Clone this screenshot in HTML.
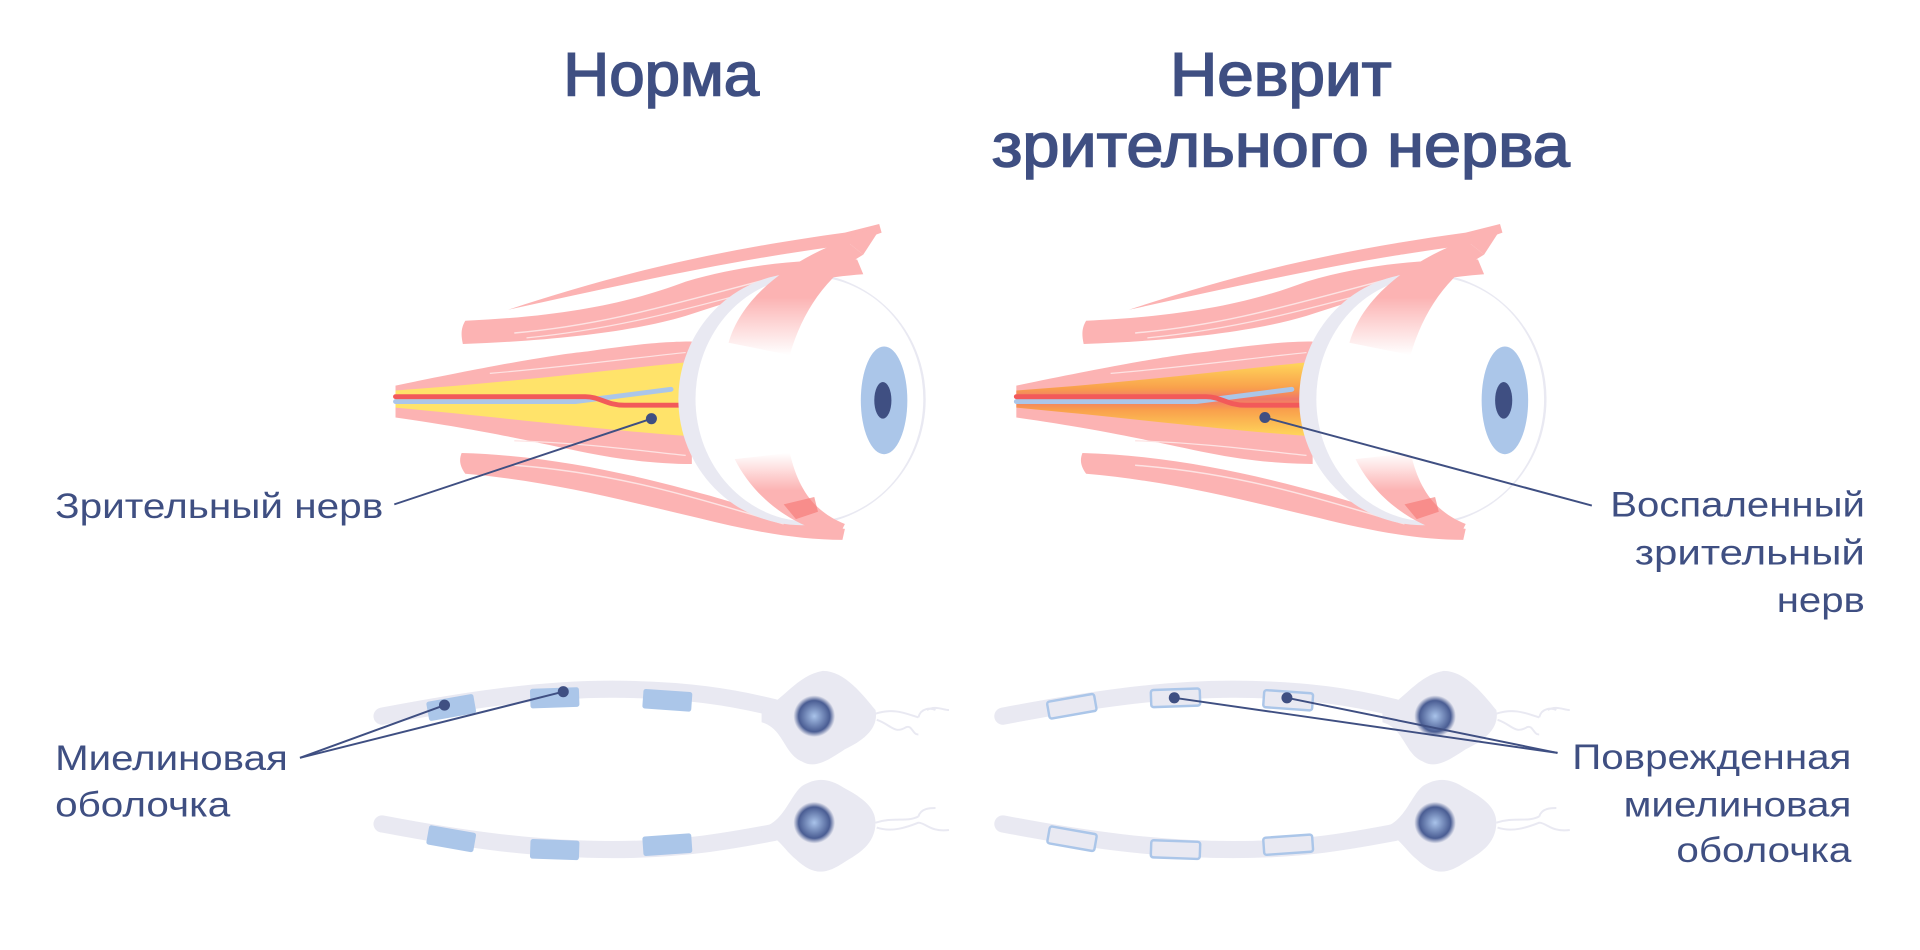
<!DOCTYPE html>
<html><head><meta charset="utf-8"><style>
html,body{margin:0;padding:0;background:#fff;width:1920px;height:950px;overflow:hidden}
svg{display:block}
text{font-family:"Liberation Sans","DejaVu Sans",sans-serif;fill:#3f4f82}
.t{stroke:#3f4f82;stroke-width:1.3}
</style></head><body>
<svg width="1920" height="950" viewBox="0 0 1568 776" xmlns="http://www.w3.org/2000/svg" preserveAspectRatio="none">
<defs>
<radialGradient id="nuc" cx="0.5" cy="0.5" r="0.5">
<stop offset="0" stop-color="#a9c3ea"/><stop offset="0.75" stop-color="#4a5d93"/><stop offset="1" stop-color="#e9e9f2"/>
</radialGradient>
<linearGradient id="inf" x1="0" y1="0" x2="0" y2="1">
<stop offset="0" stop-color="#ffd65a"/><stop offset="0.35" stop-color="#f9a04c"/><stop offset="0.5" stop-color="#f0776a"/><stop offset="0.65" stop-color="#f9a04c"/><stop offset="1" stop-color="#ffd65a"/>
</linearGradient>
<linearGradient id="fadeT" x1="0" y1="0" x2="0" y2="1">
<stop offset="0" stop-color="#fcb3b3" stop-opacity="0"/><stop offset="0.45" stop-color="#fcb3b3"/><stop offset="1" stop-color="#fcb3b3"/>
</linearGradient>
<linearGradient id="fadeB" x1="0" y1="0" x2="0" y2="1">
<stop offset="0" stop-color="#fcb3b3"/><stop offset="0.5" stop-color="#fcb3b3"/><stop offset="1" stop-color="#fcb3b3" stop-opacity="0"/>
</linearGradient>

<g id="eyebase">
<path d="M415 253 C500 225 580 205 690 190 L718 183 L720 190 L692 200 C600 212 520 230 415 253Z" fill="#fcb3b3"/>
<path d="M380 262 C470 258 520 245 560 230 C610 215 660 212 700 212 L705 224 C650 228 610 242 560 258 C520 270 460 278 378 281 C376 272 377 267 380 262Z" fill="#fcb3b3"/>
<path d="M420 272 C500 265 560 245 650 222" stroke="#fde3e3" stroke-width="1.2" fill="none"/>
<path d="M430 276 C510 268 570 250 660 226" stroke="#fde3e3" stroke-width="1" fill="none"/>
<path d="M377 370 C450 372 520 388 580 405 C630 420 660 428 690 432 L688 441 C650 441 610 433 570 423 C510 409 450 393 380 387 C375 380 375 375 377 370Z" fill="#fcb3b3"/>
<path d="M420 380 C500 386 560 404 640 428" stroke="#fde3e3" stroke-width="1.2" fill="none"/>
<path d="M323 315 C400 299 450 290 480 287 C520 281 545 279 565 279 L565 379 C540 379 510 376 480 370 C440 362 400 352 323 341Z" fill="#fcb3b3"/>
<path d="M400 305 C460 300 520 292 560 288" stroke="#fde3e3" stroke-width="1" fill="none"/>
<path d="M420 360 C480 362 520 368 560 372" stroke="#fde3e3" stroke-width="1" fill="none"/>
</g>
<g id="eyeball">
<ellipse cx="655" cy="326" rx="101" ry="103" fill="#e9e9f2"/>
<ellipse cx="661" cy="326" rx="93" ry="100" fill="#fff"/>
<ellipse cx="722" cy="327" rx="19" ry="44" fill="#abc6e9"/>
<ellipse cx="721" cy="327" rx="7" ry="15" fill="#3f4f82"/>
<path d="M595 280 C605 245 640 215 690 196 L705 208 C675 225 655 255 645 290 Z" fill="url(#fadeB)"/>
<path d="M690 196 C700 190 712 186 718 188 L705 208Z" fill="#fcb3b3"/>
<path d="M600 375 C615 405 645 430 685 438 L690 428 C665 418 652 400 645 370Z" fill="url(#fadeT)"/>
<path d="M640 412 L665 406 L668 418 L650 424Z" fill="#f5736f" opacity="0.6"/>
</g>
<g id="neuronTop">
<path d="M312 585 C380 572 440 563 500 563 C560 563 600 570 632 578" stroke="#e9e9f2" stroke-width="14" stroke-linecap="round" fill="none"/>
<path d="M622 580 C640 572 650 552 672 548 C690 548 705 568 715 580 C718 595 705 605 690 612 C675 622 665 628 655 622 C640 616 640 595 622 590Z" fill="#e9e9f2"/>
<circle cx="665" cy="585" r="17" fill="url(#nuc)"/>
<path d="M715 583 C730 578 740 583 750 586 M757 580 C764 576 770 580 775 580 M750 586 C752 578 760 578 764 580 M716 588 C728 592 730 600 740 594 C745 592 745 600 750 600" stroke="#e9e9f2" stroke-width="1.6" fill="none"/>
</g>
<g id="neuronBot">
<path d="M312 673 C380 686 440 694 500 694 C560 694 600 686 632 680" stroke="#e9e9f2" stroke-width="14" stroke-linecap="round" fill="none"/>
<path d="M622 676 C640 672 645 650 655 642 C665 636 675 634 690 644 C705 652 715 660 715 672 C715 690 700 698 690 704 C675 714 665 716 650 702 C640 694 635 682 622 680Z" fill="#e9e9f2"/>
<circle cx="665" cy="672" r="17" fill="url(#nuc)"/>
<path d="M715 672 C730 667 740 672 750 667 M716 676 C728 680 740 676 750 672 C756 672 760 680 775 678 M750 667 C752 660 760 660 764 660" stroke="#e9e9f2" stroke-width="1.6" fill="none"/>
</g>
</defs>

<text class="t" x="540" y="78" font-size="50" text-anchor="middle" textLength="160" lengthAdjust="spacingAndGlyphs">Норма</text>
<text class="t" x="1046" y="78" font-size="50" text-anchor="middle" textLength="181" lengthAdjust="spacingAndGlyphs">Неврит</text>
<text class="t" x="1046" y="136" font-size="50" text-anchor="middle" textLength="472" lengthAdjust="spacingAndGlyphs">зрительного нерва</text>

<use href="#eyebase"/>
<path d="M323 319 C420 312 500 302 560 296 L560 356 C500 352 420 342 323 333Z" fill="#ffe36a"/>
<path d="M323 328 L470 328 L548 318" stroke="#abc6e9" stroke-width="4" fill="none" stroke-linecap="round"/>
<path d="M323 324 L478 324 C490 324 495 331 510 331 L560 331" stroke="#f25a5a" stroke-width="4" fill="none" stroke-linecap="round"/>
<use href="#eyeball"/>
<line x1="322" y1="412" x2="532" y2="342" stroke="#3f4f82" stroke-width="1.6"/>
<circle cx="532" cy="342" r="4.5" fill="#3f4f82"/>
<text x="45" y="423" font-size="29" textLength="268" lengthAdjust="spacingAndGlyphs">Зрительный нерв</text>

<g transform="translate(507,0)">
<use href="#eyebase"/>
<path d="M323 319 C420 312 500 302 560 296 L560 356 C500 352 420 342 323 333Z" fill="url(#inf)"/>
<path d="M323 328 L470 328 L548 318" stroke="#abc6e9" stroke-width="4" fill="none" stroke-linecap="round"/>
<path d="M323 324 L478 324 C490 324 495 331 510 331 L560 331" stroke="#f25a5a" stroke-width="4" fill="none" stroke-linecap="round"/>
<use href="#eyeball"/>
</g>
<line x1="1033" y1="341" x2="1300" y2="413" stroke="#3f4f82" stroke-width="1.6"/>
<circle cx="1033" cy="341" r="4.5" fill="#3f4f82"/>
<text x="1523" y="422" font-size="29" text-anchor="end" textLength="208" lengthAdjust="spacingAndGlyphs">Воспаленный</text>
<text x="1523" y="461" font-size="29" text-anchor="end" textLength="188" lengthAdjust="spacingAndGlyphs">зрительный</text>
<text x="1523" y="500" font-size="29" text-anchor="end" textLength="72" lengthAdjust="spacingAndGlyphs">нерв</text>

<use href="#neuronTop"/>
<use href="#neuronBot"/>
<g fill="#abc6e9">
<rect x="349" y="570" width="39" height="16" rx="2" transform="rotate(-10 368 578)"/>
<rect x="433" y="562" width="40" height="16" rx="2" transform="rotate(-2 453 570)"/>
<rect x="525" y="564" width="40" height="16" rx="2" transform="rotate(4 545 572)"/>
<rect x="349" y="677" width="39" height="16" rx="2" transform="rotate(10 368 685)"/>
<rect x="433" y="686" width="40" height="16" rx="2" transform="rotate(2 453 694)"/>
<rect x="525" y="682" width="40" height="16" rx="2" transform="rotate(-4 545 690)"/>
</g>
<g stroke="#3f4f82" stroke-width="1.6"><line x1="245" y1="619" x2="363" y2="576"/><line x1="245" y1="619" x2="460" y2="565"/></g>
<circle cx="363" cy="576" r="4.5" fill="#3f4f82"/><circle cx="460" cy="565" r="4.5" fill="#3f4f82"/>
<text x="45" y="629" font-size="29" textLength="190" lengthAdjust="spacingAndGlyphs">Миелиновая</text>
<text x="45" y="667" font-size="29" textLength="143" lengthAdjust="spacingAndGlyphs">оболочка</text>

<g transform="translate(507,0)">
<use href="#neuronTop"/>
<use href="#neuronBot"/>
<g fill="#e9e9f2" stroke="#abc6e9" stroke-width="2">
<rect x="349" y="570" width="39" height="14" rx="2" transform="rotate(-10 368 578)"/>
<rect x="433" y="563" width="40" height="14" rx="2" transform="rotate(-2 453 570)"/>
<rect x="525" y="565" width="40" height="14" rx="2" transform="rotate(4 545 572)"/>
<rect x="349" y="678" width="39" height="14" rx="2" transform="rotate(10 368 685)"/>
<rect x="433" y="687" width="40" height="14" rx="2" transform="rotate(2 453 694)"/>
<rect x="525" y="683" width="40" height="14" rx="2" transform="rotate(-4 545 690)"/>
</g>
</g>
<g stroke="#3f4f82" stroke-width="1.6"><line x1="1272" y1="615" x2="959" y2="570"/><line x1="1272" y1="615" x2="1051" y2="570"/></g>
<circle cx="959" cy="570" r="4.5" fill="#3f4f82"/><circle cx="1051" cy="570" r="4.5" fill="#3f4f82"/>
<text x="1512" y="628" font-size="29" text-anchor="end" textLength="228" lengthAdjust="spacingAndGlyphs">Поврежденная</text>
<text x="1512" y="667" font-size="29" text-anchor="end" textLength="186" lengthAdjust="spacingAndGlyphs">миелиновая</text>
<text x="1512" y="704" font-size="29" text-anchor="end" textLength="143" lengthAdjust="spacingAndGlyphs">оболочка</text>
</svg>
</body></html>
